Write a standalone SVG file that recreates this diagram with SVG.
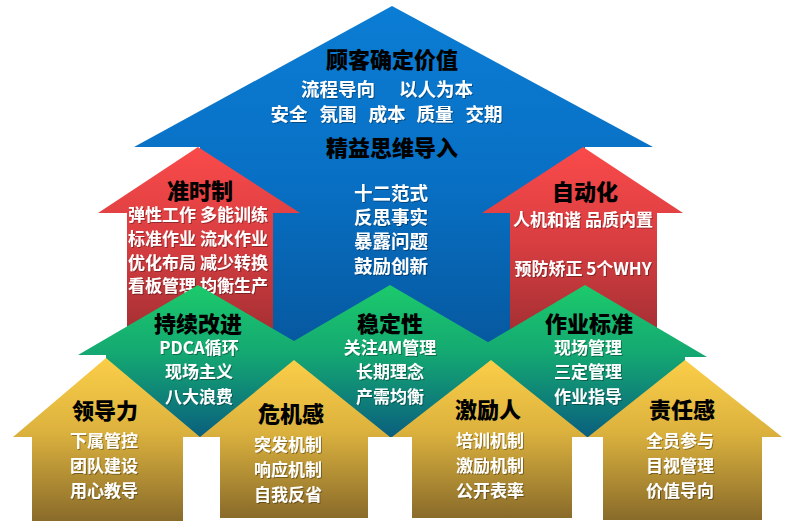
<svg xmlns="http://www.w3.org/2000/svg" width="800" height="531" viewBox="0 0 800 531">
<defs>
<linearGradient id="gBlue" x1="0" y1="0" x2="0" y2="1">
<stop offset="0" stop-color="#0b7dd4"/><stop offset="0.5" stop-color="#0870c4"/><stop offset="1" stop-color="#06579d"/>
</linearGradient>
<linearGradient id="gRed" x1="0" y1="0" x2="0" y2="1">
<stop offset="0" stop-color="#fa4a4a"/><stop offset="0.5" stop-color="#d93e41"/><stop offset="1" stop-color="#a32f33"/>
</linearGradient>
<linearGradient id="gGreen" x1="0" y1="0" x2="0" y2="1">
<stop offset="0" stop-color="#1cca6b"/><stop offset="0.45" stop-color="#14a872"/><stop offset="1" stop-color="#0a5f7e"/>
</linearGradient>
<linearGradient id="gYellow" x1="0" y1="0" x2="0" y2="1">
<stop offset="0" stop-color="#fbce48"/><stop offset="0.45" stop-color="#dcb23e"/><stop offset="1" stop-color="#896b2a"/>
</linearGradient>
<filter id="sh" x="-10%" y="-20%" width="120%" height="140%">
<feDropShadow dx="1" dy="1" stdDeviation="0.6" flood-color="#000" flood-opacity="0.35"/>
</filter>
</defs>
<style>
text { font-family: "Noto Sans CJK SC", "Noto Sans", sans-serif; font-weight: 700; text-anchor: middle; }
.ttl { fill: #000; font-size: 22px; font-weight: 900; }
.w { fill: #fff; font-size: 17px; filter: url(#sh); }
.wb { fill: #fff; font-size: 18.5px; filter: url(#sh); }
.blue { fill: url(#gBlue); }
.red { fill: url(#gRed); }
.green { fill: url(#gGreen); }
.yellow { fill: url(#gYellow); }
</style>
<rect width="800" height="531" fill="#ffffff"/>

<g id="connectors"></g>

<g id="node-top">
<path class="blue" d="M392,6 L653,147 L585,147 L585,355 L200,355 L200,147 L134,147 Z"/>
<text class="ttl" x="392" y="68">顾客确定价值</text>
<text class="wb" y="96"><tspan x="338">流程导向</tspan><tspan x="436">以人为本</tspan></text>
<text class="wb" y="121"><tspan x="289">安全</tspan><tspan x="338">氛围</tspan><tspan x="387">成本</tspan><tspan x="435">质量</tspan><tspan x="484">交期</tspan></text>
<text class="ttl" x="392" y="156">精益思维导入</text>
<text class="wb" x="391" y="200">十二范式</text>
<text class="wb" x="391" y="224">反思事实</text>
<text class="wb" x="391" y="248">暴露问题</text>
<text class="wb" x="391" y="273">鼓励创新</text>
</g>

<g id="node-jit">
<path class="red" d="M198,147 L300,213 L273,213 L273,335 L127,335 L127,213 L98,213 Z"/>
<text class="ttl" x="200" y="199">准时制</text>
<text class="w" x="198" y="221">弹性工作 多能训练</text>
<text class="w" x="198" y="245">标准作业 流水作业</text>
<text class="w" x="198" y="269">优化布局 减少转换</text>
<text class="w" x="198" y="292">看板管理 均衡生产</text>
</g>

<g id="node-jidoka">
<path class="red" d="M583,147 L683,213 L657,213 L657,335 L510,335 L510,213 L482,213 Z"/>
<text class="ttl" x="585" y="200">自动化</text>
<text class="w" x="583" y="226">人机和谐 品质内置</text>
<text class="w" x="583" y="275">预防矫正 5个WHY</text>
</g>

<g id="node-kaizen">
<path class="green" d="M198,285 L318,355 L293,355 L293,437 L106,437 L106,355 L78,355 Z"/>
<text class="ttl" x="198" y="332">持续改进</text>
<text class="w" x="199" y="354">PDCA循环</text>
<text class="w" x="199" y="378">现场主义</text>
<text class="w" x="199" y="403">八大浪费</text>
</g>

<g id="node-stability">
<path class="green" d="M390,285 L510,355 L492,355 L492,437 L293,437 L293,355 L270,355 Z"/>
<text class="ttl" x="390" y="332">稳定性</text>
<text class="w" x="390" y="354">关注4M管理</text>
<text class="w" x="390" y="378">长期理念</text>
<text class="w" x="390" y="403">产需均衡</text>
</g>

<g id="node-standard">
<path class="green" d="M585,285 L707,357 L685,357 L685,437 L492,437 L492,357 L463,357 Z"/>
<text class="ttl" x="589" y="332">作业标准</text>
<text class="w" x="588" y="354">现场管理</text>
<text class="w" x="588" y="378">三定管理</text>
<text class="w" x="588" y="403">作业指导</text>
</g>

<g id="node-leadership">
<path class="yellow" d="M106,358 L200,437 L183,437 L183,521 L32,521 L32,437 L13,437 Z"/>
<text class="ttl" x="105" y="419">领导力</text>
<text class="w" x="104" y="447">下属管控</text>
<text class="w" x="104" y="472">团队建设</text>
<text class="w" x="104" y="497">用心教导</text>
</g>

<g id="node-crisis">
<path class="yellow" d="M294,360 L390,437 L368,437 L368,518 L220,518 L220,437 L200,437 Z"/>
<text class="ttl" x="291" y="422">危机感</text>
<text class="w" x="288" y="451">突发机制</text>
<text class="w" x="288" y="476">响应机制</text>
<text class="w" x="288" y="501">自我反省</text>
</g>

<g id="node-motivation">
<path class="yellow" d="M491,360 L587,437 L572,437 L572,518 L412,518 L412,437 L392,437 Z"/>
<text class="ttl" x="488" y="418">激励人</text>
<text class="w" x="490" y="447">培训机制</text>
<text class="w" x="490" y="472">激励机制</text>
<text class="w" x="490" y="497">公开表率</text>
</g>

<g id="node-responsibility">
<path class="yellow" d="M685,360 L782,437 L762,437 L762,520 L603,520 L603,437 L588,437 Z"/>
<text class="ttl" x="682" y="418">责任感</text>
<text class="w" x="680" y="447">全员参与</text>
<text class="w" x="680" y="472">目视管理</text>
<text class="w" x="680" y="497">价值导向</text>
</g>
</svg>
